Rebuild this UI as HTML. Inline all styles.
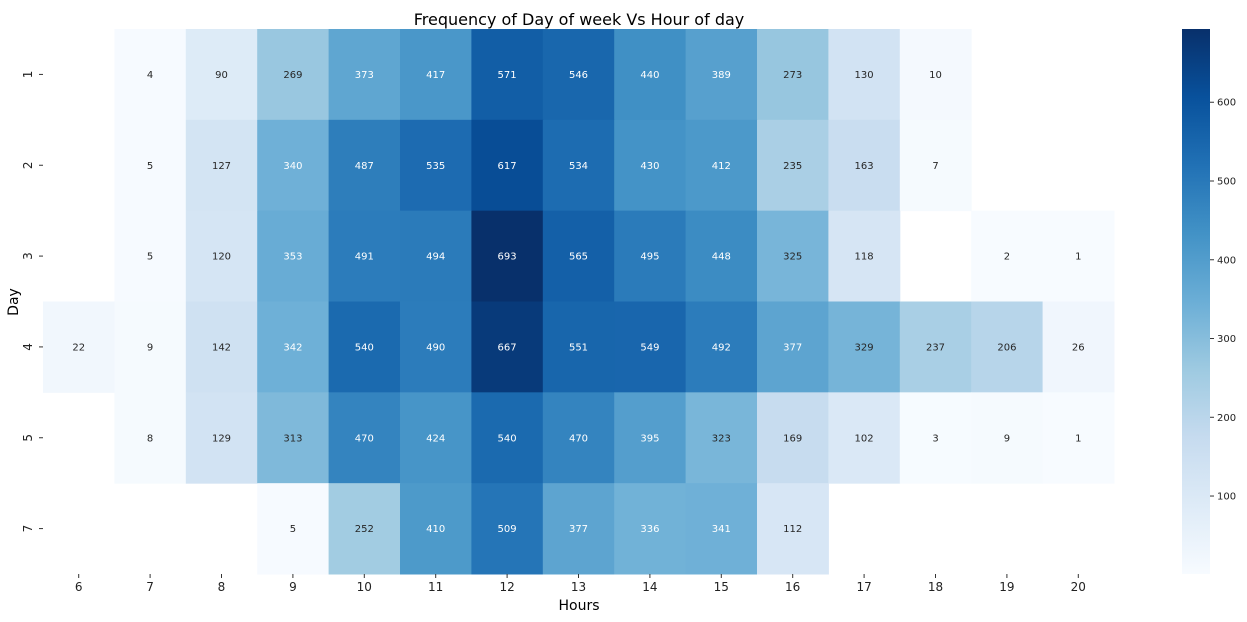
<!DOCTYPE html>
<html><head><meta charset="utf-8"><style>
body{margin:0;background:#fff;font-family:"DejaVu Sans","Liberation Sans",sans-serif;}
svg text{font-family:"DejaVu Sans","Liberation Sans",sans-serif;}
</style></head><body>
<svg id="chart" width="1247" height="618" xmlns="http://www.w3.org/2000/svg">
<text x="579" y="25" font-size="16" text-anchor="middle">Frequency of Day of week Vs Hour of day</text>
<text x="579" y="610" font-size="14" text-anchor="middle">Hours</text>
<text x="18" y="302" font-size="14" text-anchor="middle" transform="rotate(-90 18 302)">Day</text>
<g id="cells"></g><g id="xt"></g><g id="yt"></g><g id="cb"></g>
</svg>
<script>
const hours=[6,7,8,9,10,11,12,13,14,15,16,17,18,19,20];
const days=[1,2,3,4,5,7];
const row1=[null,4,90,269,373,417,571,546,440,389,273,130,10,null,null];
const row2=[null,5,127,340,487,535,617,534,430,412,235,163,7,null,null];
const row3=[null,5,120,353,491,494,693,565,495,448,325,118,null,2,1];
const row4=[22,9,142,342,540,490,667,551,549,492,377,329,237,206,26];
const row5=[null,8,129,313,470,424,540,470,395,323,169,102,3,9,1];
const row7=[null,null,null,5,252,410,509,377,336,341,112,null,null,null,null];
const cbTicks=[100,200,300,400,500,600];
const values=[row1,row2,row3,row4,row5,row7];
const NS="http://www.w3.org/2000/svg";
const X0=43,X1=1114,Y0=29,Y1=574;
const cw=(X1-X0)/hours.length, rh=(Y1-Y0)/days.length;
const all=values.flat().filter(v=>v!=null);
const vmin=Math.min(...all), vmax=Math.max(...all);
const stops=["#f7fbff","#deebf7","#c6dbef","#9ecae1","#6baed6","#4292c6","#2171b5","#08519c","#08306b"].map(h=>[parseInt(h.slice(1,3),16),parseInt(h.slice(3,5),16),parseInt(h.slice(5,7),16)]);
function cmap(v){let t=(v-vmin)/(vmax-vmin);t=Math.max(0,Math.min(1,t))*(stops.length-1);const i=Math.min(stops.length-2,Math.floor(t)),f=t-i;return stops[i].map((c,k)=>Math.round(c+(stops[i+1][k]-c)*f));}
function lum(c){const l=c.map(x=>{x/=255;return x<=0.03928?x/12.92:Math.pow((x+0.055)/1.055,2.4)});return 0.2126*l[0]+0.7152*l[1]+0.0722*l[2];}
function mk(tag,attrs,parent){const e=document.createElementNS(NS,tag);for(const k in attrs)e.setAttribute(k,attrs[k]);parent.appendChild(e);return e;}
const xs=i=>X0+i*cw, ys=j=>Y0+j*rh;
const cells=document.getElementById('cells');
values.forEach((row,j)=>row.forEach((v,i)=>{if(v==null)return;const c=cmap(v);
const r=mk('rect',{x:xs(i),y:ys(j),width:cw+0.5,height:rh+0.5,fill:`rgb(${c})`},cells);


const t=mk('text',{x:xs(i)+cw/2,y:ys(j)+rh/2+3.5,'font-size':10,'text-anchor':'middle',fill:lum(c)>0.408?'#262626':'#ffffff'},cells);


t.textContent=v;}));
const xt=document.getElementById('xt');
hours.forEach((h,i)=>{const x=xs(i)+cw/2;mk('line',{x1:x,x2:x,y1:Y1,y2:Y1+4,stroke:'#333'},xt);
const t=mk('text',{x:x,y:Y1+17,'font-size':12,'text-anchor':'middle',fill:'#222'},xt);


t.textContent=h;});
const yt=document.getElementById('yt');
days.forEach((d,j)=>{const y=ys(j)+rh/2;mk('line',{x1:X0-4,x2:X0,y1:y,y2:y,stroke:'#333'},yt);
const t=mk('text',{x:32,y:y,'font-size':12,'text-anchor':'middle',fill:'#222',transform:`rotate(-90 32 ${y})`},yt);


t.textContent=d;});
const cb=document.getElementById('cb');
const CX=1182,CW=28;
const defs=mk('defs',{},cb);const g=mk('linearGradient',{id:'cbg',x1:0,y1:1,x2:0,y2:0},defs);
stops.forEach((s,k)=>mk('stop',{offset:k/(stops.length-1),'stop-color':`rgb(${s})`},g));
const bar=mk('rect',{x:CX,y:Y0,width:CW,height:Y1-Y0,fill:'url(#cbg)'},cb);


const cy=v=>Y1-(v-vmin)/(vmax-vmin)*(Y1-Y0);
cbTicks.forEach(v=>{const y=cy(v);mk('line',{x1:CX+CW,x2:CX+CW+4,y1:y,y2:y,stroke:'#333'},cb);
const t=mk('text',{x:CX+CW+7,y:y+3.5,'font-size':10,fill:'#222'},cb);


t.textContent=v;});
</script>
</body></html>
